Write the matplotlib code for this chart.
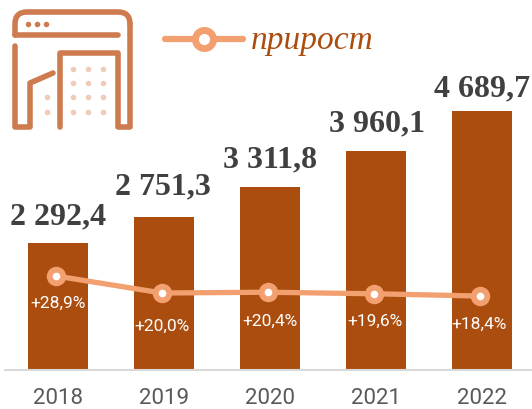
import matplotlib
matplotlib.use('Agg')
import matplotlib.pyplot as plt
from matplotlib.patches import PathPatch
from matplotlib.path import Path

YEARS = ['2018', '2019', '2020', '2021', '2022']
VALUES = [2292.4, 2751.3, 3311.8, 3960.1, 4689.7]
VALUE_LABELS = ['2 292,4', '2 751,3', '3 311,8', '3 960,1', '4 689,7']
GROWTH = [28.9, 20.0, 20.4, 19.6, 18.4]
GROWTH_LABELS = ['+28,9%', '+20,0%', '+20,4%', '+19,6%', '+18,4%']

BROWN = '#AB4D0F'
ORANGE = '#F2A070'
ICON = '#CE7B4F'
ICON_LIGHT = '#EFCBB8'
DARK = '#404040'
SERIF = 'Liberation Serif'

# label shifts in pixels, as placed by hand in the original
VALUE_SHIFT = [(0, 27), (-1, 32), (0, 28), (1, 28), (0, 23)]
GROWTH_SHIFT = [(2, -26), (0, -32), (2, -28), (1, -27), (-1, -27)]

W, H = 532, 410
fig = plt.figure(figsize=(W / 100, H / 100), dpi=100)

ax = fig.add_axes([0, 0, 1, 1], frameon=False)
ax.set_xlim(-58 / 106, (W - 58) / 106)
ax.set_ylim(-(H - 370) * 18.15, 370 * 18.15)
ax.axis('off')

x = list(range(len(YEARS)))
ax.bar(x, VALUES, width=0.575, color=BROWN, zorder=1)
for i, v in enumerate(VALUES):
    dx, dy = VALUE_SHIFT[i]
    ax.annotate(VALUE_LABELS[i], (i, v), xytext=(dx * 0.72, dy * 0.72), textcoords='offset points',
                ha='center', va='center', fontsize=23, fontweight='bold', family=SERIF, color=DARK)
    ax.annotate(YEARS[i], (i, 0), xytext=(0, -29 * 0.72), textcoords='offset points',
                ha='center', va='center', fontsize=16, family='Roboto', color='#595959')

# growth line on its own scale, shifted 2px left of the bars
ax2 = fig.add_axes([0, 0, 1, 1], frameon=False)
ax2.set_xlim(-56 / 106, (W - 56) / 106)
ax2.set_ylim(20 - (H - 294) / 1.91, 20 + 294 / 1.91)
ax2.axis('off')
ax2.plot(x, GROWTH, color=ORANGE, lw=3.8, marker='o', ms=14, mfc=ORANGE, mec='none', zorder=3)
ax2.plot(x, GROWTH, ls='none', marker='o', ms=5.5, mfc='white', mec='none', zorder=4)
for i, lab in enumerate(GROWTH_LABELS):
    dx, dy = GROWTH_SHIFT[i]
    ax2.annotate(lab, (i, GROWTH[i]), xytext=(dx * 0.72, dy * 0.72), textcoords='offset points',
                 ha='center', va='center', fontsize=12.5, color='white', family='Roboto', zorder=5)

# icon, legend and baseline in pixel coordinates
ov = fig.add_axes([0, 0, 1, 1], frameon=False)
ov.set_xlim(0, W)
ov.set_ylim(H, 0)
ov.axis('off')
ov.plot([5, W], [370.5, 370.5], color='#D9D9D9', lw=1.5)


def stroke(xs, ys):
    ov.plot(xs, ys, color=ICON, lw=4, solid_capstyle='round', solid_joinstyle='round')


# window outline with rounded top corners
outline = Path([(15, 36), (15, 25), (15, 13), (27, 13), (118, 13), (130, 13), (130, 25)],
               [Path.MOVETO, Path.LINETO, Path.CURVE3, Path.CURVE3, Path.LINETO, Path.CURVE3, Path.CURVE3])
ov.add_patch(PathPatch(outline, fc='none', ec=ICON, lw=4, capstyle='round'))
stroke([130, 130, 118, 118, 60, 60], [25, 128, 128, 54, 54, 128])
stroke([15, 118], [36, 36])
stroke([15, 15, 30, 30, 53], [47, 128, 128, 84, 74])
for px in (28, 37, 46):
    ov.plot(px, 24.5, 'o', color=ICON, ms=4, mec='none')
for px in (73, 88, 103):
    for py in (70, 84, 98, 113):
        ov.plot(px, py, 'o', color=ICON_LIGHT, ms=4, mec='none')
for py in (98, 113):
    ov.plot(47, py, 'o', color=ICON_LIGHT, ms=4, mec='none')

ov.plot([165, 243], [40, 40], color=ORANGE, lw=4.5, solid_capstyle='round')
ov.plot(204, 40, 'o', ms=18, color=ORANGE, mec='none')
ov.plot(204, 40, 'o', ms=8, color='white', mec='none')
ov.text(251, 41, 'прирост', fontsize=24, style='italic', color=BROWN, family=SERIF, va='center')

fig.savefig('out.png', dpi=100)
